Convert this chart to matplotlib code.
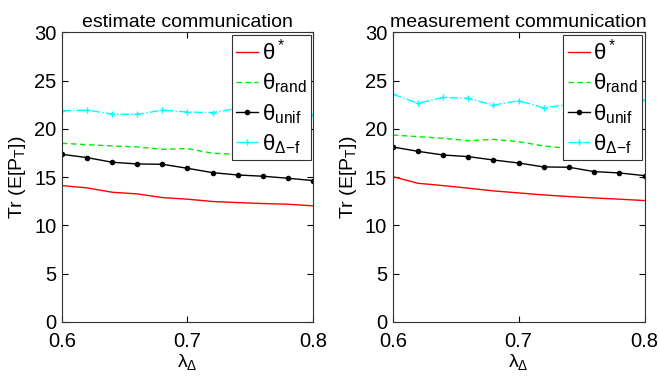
import numpy as np
import matplotlib
matplotlib.use('Agg')
import matplotlib.pyplot as plt

plt.rcParams['font.family'] = ['Liberation Sans', 'DejaVu Sans']
plt.rcParams['mathtext.fontset'] = 'custom'
plt.rcParams['mathtext.rm'] = 'Liberation Sans'
plt.rcParams['mathtext.it'] = 'Liberation Sans'
plt.rcParams['mathtext.bf'] = 'Liberation Sans:bold'

# lambda_Delta values
lam = [0.60, 0.62, 0.64, 0.66, 0.68, 0.70, 0.72, 0.74, 0.76, 0.78, 0.80]

# estimate communication
est_opt = [14.13, 13.89, 13.44, 13.27, 12.89, 12.72, 12.48, 12.37, 12.27, 12.20, 12.03]
est_rand = [18.51, 18.37, 18.24, 18.13, 17.89, 17.96, 17.48, 17.37, 17.30, 17.15, 16.96]
est_unif = [17.37, 17.03, 16.55, 16.37, 16.34, 15.92, 15.47, 15.23, 15.10, 14.89, 14.65]
est_df = [21.88, 21.95, 21.54, 21.51, 21.95, 21.75, 21.70, 22.13, 22.00, 21.80, 21.44]

# measurement communication
meas_opt = [15.06, 14.37, 14.13, 13.86, 13.58, 13.37, 13.16, 12.99, 12.85, 12.72, 12.58]
meas_rand = [19.37, 19.20, 19.03, 18.78, 18.92, 18.68, 18.23, 17.99, 17.85, 17.70, 17.54]
meas_unif = [18.13, 17.68, 17.30, 17.13, 16.78, 16.47, 16.06, 16.03, 15.58, 15.44, 15.16]
meas_df = [23.61, 22.65, 23.27, 23.16, 22.47, 22.92, 22.19, 22.54, 22.70, 22.60, 23.00]

titles = ['estimate communication', 'measurement communication']
labels = [r'$\mathregular{θ^*}$', r'$\mathregular{θ_{rand}}$',
          r'$\mathregular{θ_{unif}}$', r'$\mathregular{θ_{Δ\!-\!f}}$']

fig = plt.figure(figsize=(6.59, 3.77), dpi=100)
axes = [fig.add_axes([0.094, 0.146, 0.381, 0.768]),
        fig.add_axes([0.596, 0.146, 0.382, 0.768])]

panels = [(est_opt, est_rand, est_unif, est_df),
          (meas_opt, meas_rand, meas_unif, meas_df)]

for ax, title, (opt, rnd, unif, df) in zip(axes, titles, panels):
    ax.plot(lam, opt, color='#ff0000', lw=1.0, label=labels[0])
    ax.plot(lam, rnd, color='#00ee00', lw=1.0, ls=(0, (4, 2.5)), label=labels[1])
    ax.plot(lam, unif, color='black', lw=1.0, marker='.', ms=6, label=labels[2])
    ax.plot(lam, df, color='#00ffff', lw=1.0, ls='-.', marker='+', ms=4, label=labels[3])

    ax.set_xlim(0.6, 0.8)
    ax.set_ylim(0, 30)
    ax.set_xticks([0.6, 0.7, 0.8])
    ax.set_yticks([0, 5, 10, 15, 20, 25, 30])
    ax.tick_params(direction='in', top=True, right=True, labelsize=14.5, length=4)
    ax.tick_params(axis='x', pad=7)
    ax.tick_params(axis='y', pad=4)
    for s in ax.spines.values():
        s.set_linewidth(0.8)
        s.set_color('#333333')
    ax.set_title(title, fontsize=14, pad=4)
    ax.set_xlabel(r'$\mathregular{λ_Δ}$', fontsize=14, labelpad=1)
    ax.set_ylabel(r'$\mathregular{Tr\ (E[P_T])}$', fontsize=14, labelpad=4)

    leg = ax.legend(loc='upper right', fontsize=16, handlelength=1.0, handletextpad=0.15,
                    borderaxespad=0.1, labelspacing=0.3, fancybox=False,
                    framealpha=1, borderpad=0.2)
    leg.get_frame().set_edgecolor('#333333')
    leg.get_frame().set_linewidth(0.8)

fig.savefig('out.png', dpi=100)
